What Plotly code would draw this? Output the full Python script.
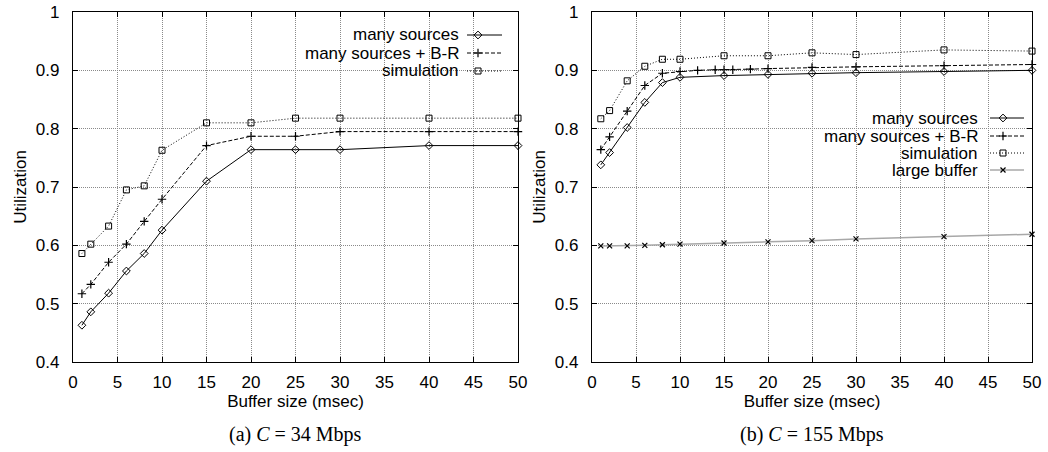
import plotly.graph_objects as go

# ---------------- data ----------------
x_a = [1, 2, 4, 6, 8, 10, 15, 20, 25, 30, 40, 50]
many_a = [0.463, 0.486, 0.518, 0.556, 0.586, 0.626, 0.710, 0.764, 0.764, 0.764, 0.771, 0.771]
br_a = [0.517, 0.533, 0.571, 0.602, 0.641, 0.679, 0.771, 0.787, 0.787, 0.795, 0.795, 0.795]
sim_a = [0.586, 0.602, 0.633, 0.695, 0.702, 0.763, 0.810, 0.810, 0.818, 0.818, 0.818, 0.818]

x_b = [1, 2, 4, 6, 8, 10, 15, 20, 25, 30, 40, 50]
many_b = [0.738, 0.759, 0.802, 0.845, 0.879, 0.888, 0.891, 0.893, 0.895, 0.896, 0.898, 0.900]
x_b_br = [1, 2, 4, 6, 8, 10, 12, 14, 15, 16, 18, 20, 25, 30, 40, 50]
br_b = [0.764, 0.786, 0.830, 0.874, 0.895, 0.898, 0.900, 0.901, 0.901, 0.901, 0.902, 0.903, 0.905, 0.906, 0.908, 0.910]
sim_b = [0.817, 0.831, 0.882, 0.907, 0.919, 0.919, 0.925, 0.925, 0.930, 0.927, 0.935, 0.933]
large_b = [0.599, 0.599, 0.599, 0.600, 0.601, 0.602, 0.604, 0.606, 0.608, 0.611, 0.615, 0.619]

x_ticks = [0, 5, 10, 15, 20, 25, 30, 35, 40, 45, 50]
y_ticks = [0.4, 0.5, 0.6, 0.7, 0.8, 0.9, 1.0]
y_tick_text = ["0.4", "0.5", "0.6", "0.7", "0.8", "0.9", "1"]

captions = ["(a) <i>C</i> = 34 Mbps", "(b) <i>C</i> = 155 Mbps"]

# ---------------- layout geometry ----------------
W, H = 1048, 452


def px(x):  # page pixel -> paper fraction
    return x / W


def py(y):
    return 1 - y / H


FONT = "Liberation Sans, Arial, sans-serif"
FS = 17
styles = {
    "many sources": dict(line=dict(color="black", width=1, dash="solid"),
                         marker=dict(symbol="diamond-open", size=6, color="black", line=dict(width=1))),
    "many sources + B-R": dict(line=dict(color="black", width=1, dash="4px,2px"),
                               marker=dict(symbol="cross-thin-open", size=6, color="black", line=dict(width=1.2))),
    "simulation": dict(line=dict(color="black", width=1, dash="1px,2px"),
                       marker=dict(symbol="square-open", size=6, color="black", line=dict(width=1))),
    "large buffer": dict(line=dict(color="#a8a8a8", width=1.5, dash="solid"),
                         marker=dict(symbol="x-thin-open", size=5, color="black", line=dict(width=1.2))),
}

fig = go.Figure()


def add(name, x, y, xa, ya):
    fig.add_trace(go.Scatter(x=x, y=y, mode="lines+markers", name=name, showlegend=False,
                             xaxis=xa, yaxis=ya, cliponaxis=False, **styles[name]))


add("many sources", x_a, many_a, "x", "y")
add("many sources + B-R", x_a, br_a, "x", "y")
add("simulation", x_a, sim_a, "x", "y")

add("large buffer", x_b, large_b, "x2", "y2")
add("simulation", x_b, sim_b, "x2", "y2")
add("many sources + B-R", x_b_br, br_b, "x2", "y2")
add("many sources", x_b, many_b, "x2", "y2")

left_dom = [px(73), px(518)]
right_dom = [px(592), px(1032)]
y_dom = [py(362), py(12)]

axis_common = dict(showline=True, linecolor="black", linewidth=1.3, mirror="allticks",
                   ticks="inside", ticklen=5, tickcolor="black", automargin=False,
                   ticklabeloverflow="allow",
                   showgrid=True, gridcolor="#8a8a8a", griddash="1px,1px", gridwidth=1,
                   zeroline=False, tickfont=dict(family=FONT, size=FS, color="black"))

xcommon = dict(axis_common, range=[0, 50], tickvals=x_ticks, ticklabelstandoff=4,
               title=dict(text="Buffer size (msec)", font=dict(family=FONT, size=FS, color="black"), standoff=0))
ycommon = dict(axis_common, range=[0.4, 1.0], tickvals=y_ticks, ticktext=y_tick_text, ticklabelstandoff=9,
               title=dict(text="Utilization", font=dict(family=FONT, size=FS, color="black"), standoff=4))

fig.update_layout(
    width=W, height=H,
    margin=dict(l=0, r=0, t=0, b=0),
    paper_bgcolor="white", plot_bgcolor="rgba(0,0,0,0)",
    xaxis=dict(xcommon, domain=left_dom, anchor="y"),
    yaxis=dict(ycommon, domain=y_dom, anchor="x"),
    xaxis2=dict(xcommon, domain=right_dom, anchor="y2"),
    yaxis2=dict(ycommon, domain=y_dom, anchor="x2"),
    # overlay axis for legend keys (page pixel coordinates)
    xaxis3=dict(domain=[0, 1], range=[0, W], visible=False, anchor="y3", fixedrange=True),
    yaxis3=dict(domain=[0, 1], range=[H, 0], visible=False, anchor="x3", fixedrange=True),
    showlegend=False,
)


# ---------------- custom gnuplot-style legends ----------------
def legend(names, text_right, key_x0, key_x1, mark_x, row_y):
    for name, yy in zip(names, row_y):
        fig.add_annotation(x=px(text_right), y=py(yy), xref="paper", yref="paper",
                           text=name, showarrow=False, xanchor="right", yanchor="middle",
                           font=dict(family=FONT, size=FS, color="black"))
        st = styles[name]
        fig.add_trace(go.Scatter(x=[key_x0, key_x1], y=[yy, yy], mode="lines", line=st["line"],
                                 xaxis="x3", yaxis="y3", showlegend=False, hoverinfo="skip"))
        fig.add_trace(go.Scatter(x=[mark_x], y=[yy], mode="markers", marker=st["marker"],
                                 xaxis="x3", yaxis="y3", showlegend=False, hoverinfo="skip"))


legend(["many sources", "many sources + B-R", "simulation"], 461, 467, 502, 478, [35, 53, 71])
legend(["many sources", "many sources + B-R", "simulation", "large buffer"], 980, 990, 1024, 1003,
       [118, 136, 153, 170])

# captions
for cap, dom in zip(captions, [left_dom, right_dom]):
    fig.add_annotation(x=(dom[0] + dom[1]) / 2, y=py(434), xref="paper", yref="paper",
                       text=cap, showarrow=False, xanchor="center", yanchor="middle",
                       font=dict(family="Liberation Serif, Times New Roman, serif", size=20, color="black"))

fig.write_html("out.html", config={"displayModeBar": False},
               post_script="document.body.style.margin='0';document.body.style.overflow='hidden';")
